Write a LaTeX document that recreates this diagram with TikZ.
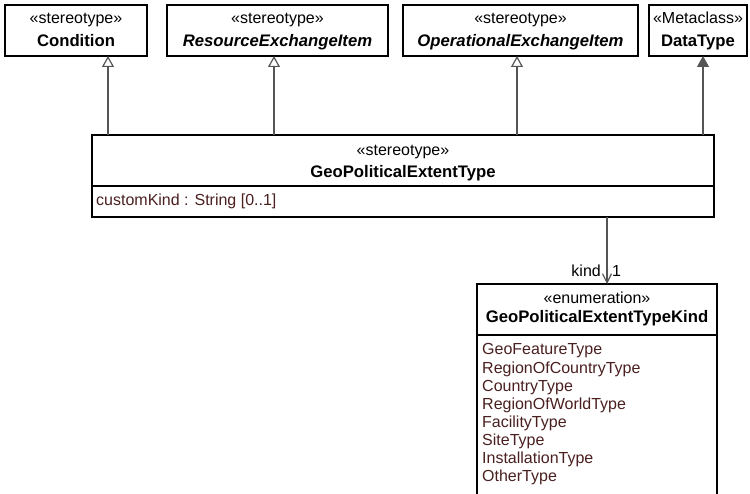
\documentclass[tikz,border=0pt]{standalone}
\usepackage{fontspec}
\setmainfont{Liberation Sans}
\usetikzlibrary{arrows.meta}
\definecolor{attr}{HTML}{4A1F1F}
\definecolor{conn}{HTML}{555555}
\begin{document}
\begin{tikzpicture}[x=1pt,y=-1pt,
  umlbox/.style={draw=black, line width=1.3pt, anchor=north west, inner sep=0pt, outer sep=0pt},
  divider/.style={draw=black, line width=1.3pt},
  txt/.style={font=\fontsize{16}{18}\selectfont, inner sep=0pt, anchor=base},
  bname/.style={txt, font=\fontsize{16.7}{18}\selectfont\bfseries},
  biname/.style={txt, font=\fontsize{16.7}{18}\selectfont\bfseries\itshape},
  attrtxt/.style={txt, anchor=base west, text=attr},
  gen/.style={draw=conn, line width=1.2pt, -{Triangle[open, fill=white, width=12pt, length=11pt, line width=1.2pt]}},
  ext/.style={draw=conn, line width=1.2pt, -{Triangle[width=12pt, length=11pt]}, fill=conn},
  assoc/.style={draw=conn, line width=1.2pt, -{Straight Barb[width=9pt, length=9pt, line width=1.2pt]}}
]
\useasboundingbox (0,0) rectangle (750,494);

% top boxes
\node[umlbox, minimum width=142pt, minimum height=51pt] (cond) at (5,5) {};
\node[umlbox, minimum width=221pt, minimum height=51pt] (rei) at (167,5) {};
\node[umlbox, minimum width=235pt, minimum height=51pt] (oei) at (403,5) {};
\node[umlbox, minimum width=98pt, minimum height=51pt] (dt) at (649,5) {};

\node[txt] (condst) at ([yshift=-19pt]cond.north) {«stereotype»};
\node[bname] (condnm) at ([yshift=-42pt]cond.north) {Condition};
\node[txt] (reist) at ([yshift=-19pt]rei.north) {«stereotype»};
\node[biname] (reinm) at ([yshift=-42pt]rei.north) {ResourceExchangeItem};
\node[txt] (oeist) at ([yshift=-19pt]oei.north) {«stereotype»};
\node[biname] (oeinm) at ([yshift=-42pt]oei.north) {OperationalExchangeItem};
\node[txt] (dtst) at ([yshift=-19pt]dt.north) {«Metaclass»};
\node[bname] (dtnm) at ([yshift=-42pt]dt.north) {DataType};

% GeoPoliticalExtentType
\node[umlbox, minimum width=622pt, minimum height=82pt] (gpet) at (92,135) {};
\draw[divider] ([yshift=-51pt]gpet.north west) -- ([yshift=-51pt]gpet.north east);
\node[txt] (gpetst) at ([yshift=-21pt]gpet.north) {«stereotype»};
\node[bname] (gpetnm) at ([yshift=-43pt]gpet.north) {GeoPoliticalExtentType};
\node[attrtxt] (gpetat) at ([xshift=4pt,yshift=-71pt]gpet.north west) {customKind : String [0..1]};

% enumeration
\node[umlbox, minimum width=240pt, minimum height=225pt] (enum) at (477,284) {};
\draw[divider] ([yshift=-51pt]enum.north west) -- ([yshift=-51pt]enum.north east);
\node[txt] (enumst) at ([yshift=-20pt]enum.north) {«enumeration»};
\node[bname] (enumnm) at ([yshift=-39pt]enum.north) {GeoPoliticalExtentTypeKind};
\foreach \t [count=\i from 0] in {GeoFeatureType,RegionOfCountryType,CountryType,RegionOfWorldType,FacilityType,SiteType,InstallationType,OtherType}{
  \node[attrtxt] (lit\i) at ([xshift=5pt,yshift={-71pt-18.1pt*\i}]enum.north west) {\t};
}

% connectors
\coordinate (x1) at (108,0);
\coordinate (x2) at (274,0);
\coordinate (x3) at (517,0);
\coordinate (x4) at (703,0);
\coordinate (x5) at (607,0);
\draw[gen] (gpet.north -| x1) -- (cond.south -| x1);
\draw[gen] (gpet.north -| x2) -- (rei.south -| x2);
\draw[gen] (gpet.north -| x3) -- (oei.south -| x3);
\draw[ext] (gpet.north -| x4) -- (dt.south -| x4);
\draw[assoc] (gpet.south -| x5) -- (enum.north -| x5);
\node[txt, anchor=base east] (kindlbl) at ([xshift=-6pt,yshift=7pt]enum.north -| x5) {kind};
\node[txt, anchor=base west] (multlbl) at ([xshift=5pt,yshift=7pt]enum.north -| x5) {1};
\end{tikzpicture}
\end{document}
